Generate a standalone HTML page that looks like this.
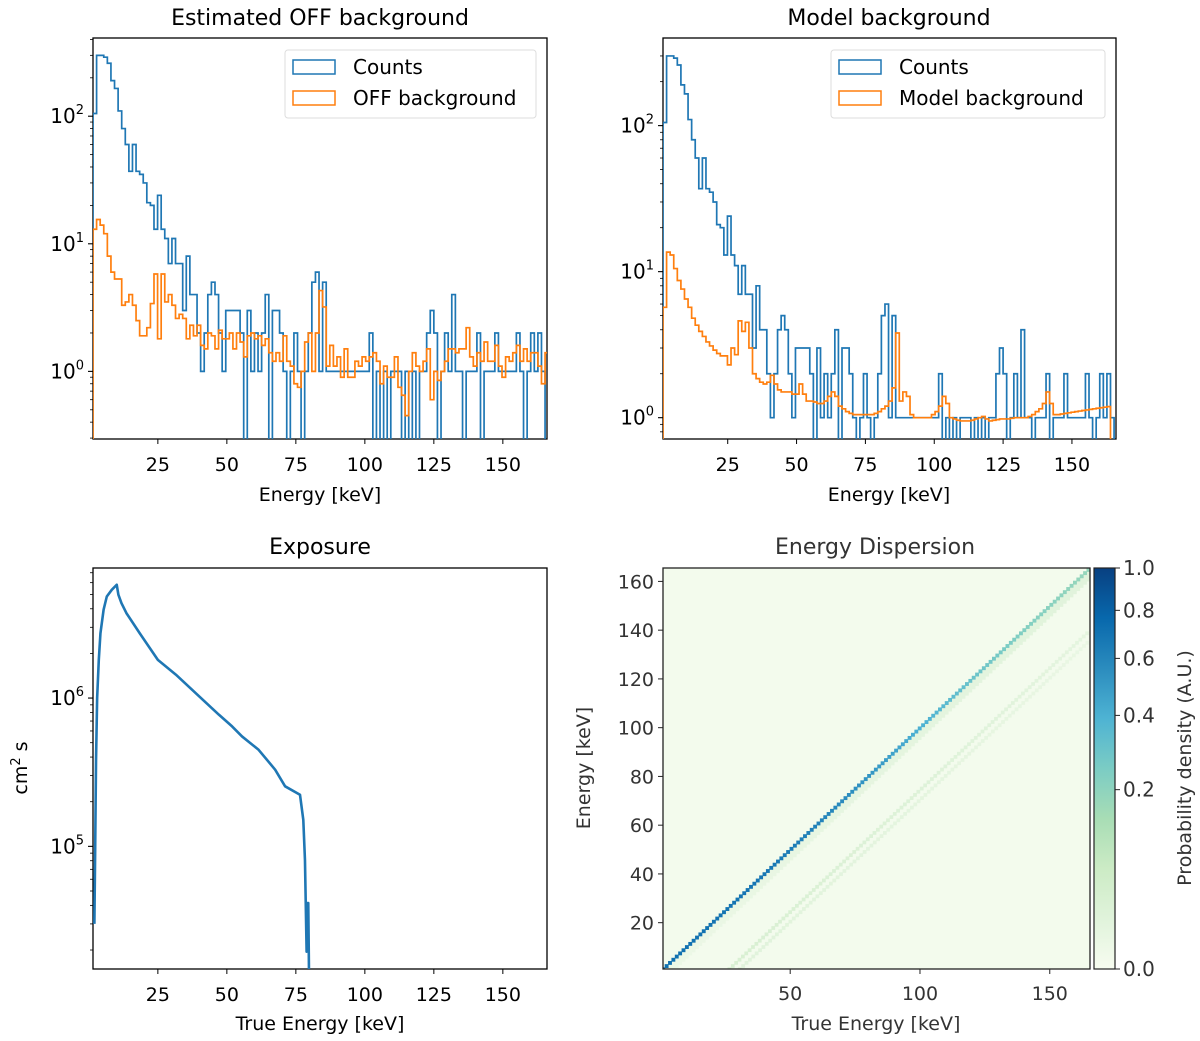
<!DOCTYPE html>
<html><head><meta charset="utf-8"><style>
html,body{margin:0;padding:0;background:#fff;}
svg{display:block;font-family:"DejaVu Sans","Liberation Sans",sans-serif;}
</style></head><body>
<svg id="fig" width="1200" height="1041" viewBox="0 0 1200 1041" xmlns="http://www.w3.org/2000/svg">
<defs>
<linearGradient id="gnbu" x1="0" y1="1" x2="0" y2="0">
<stop offset="0" stop-color="#f7fcf0"/><stop offset="0.125" stop-color="#e0f3db"/><stop offset="0.25" stop-color="#ccebc5"/><stop offset="0.375" stop-color="#a8ddb5"/><stop offset="0.5" stop-color="#7bccc4"/><stop offset="0.625" stop-color="#4eb3d3"/><stop offset="0.75" stop-color="#2b8cbe"/><stop offset="0.875" stop-color="#0868ac"/><stop offset="1" stop-color="#084081"/>
</linearGradient>
<clipPath id="c1"><rect x="93" y="38" width="454" height="401"/></clipPath>
<clipPath id="c2"><rect x="663" y="38" width="453" height="401"/></clipPath>
<clipPath id="c3"><rect x="93" y="568" width="454" height="401"/></clipPath>
<clipPath id="c4"><rect x="663" y="568" width="427" height="401"/></clipPath>
</defs>
<text x="320" y="25" font-size="22" text-anchor="middle">Estimated OFF background</text>
<text x="889" y="25" font-size="22" text-anchor="middle">Model background</text>
<text x="320" y="554" font-size="22" text-anchor="middle">Exposure</text>
<text x="875" y="554" font-size="22" text-anchor="middle" fill="#333">Energy Dispersion</text>
<text x="320" y="501" font-size="19" text-anchor="middle">Energy [keV]</text>
<text x="889" y="501" font-size="19" text-anchor="middle">Energy [keV]</text>
<text x="320" y="1030" font-size="19" text-anchor="middle">True Energy [keV]</text>
<text x="876" y="1030" font-size="19" text-anchor="middle" fill="#333">True Energy [keV]</text>
<text transform="translate(27,768) rotate(-90)" font-size="19" text-anchor="middle">cm<tspan font-size="13" dy="-7">2</tspan><tspan dy="7"> s</tspan></text>
<text transform="translate(590,768) rotate(-90)" font-size="19" text-anchor="middle" fill="#333">Energy [keV]</text>
<text transform="translate(1191,768) rotate(-90)" font-size="19" text-anchor="middle" fill="#333">Probability density (A.U.)</text>
<g id="layer"></g>
<g>
<rect x="285" y="50" width="251" height="68" rx="3" fill="#fff" fill-opacity="0.8" stroke="#ddd"/>
<rect x="293" y="60" width="42" height="14" fill="none" stroke="#1f77b4" stroke-width="1.5"/>
<text x="353" y="74" font-size="20">Counts</text>
<rect x="293" y="91" width="42" height="14" fill="none" stroke="#ff7f0e" stroke-width="1.5"/>
<text x="353" y="105" font-size="20">OFF background</text>
</g>
<g>
<rect x="831" y="50" width="274" height="68" rx="3" fill="#fff" fill-opacity="0.8" stroke="#ddd"/>
<rect x="839" y="60" width="42" height="14" fill="none" stroke="#1f77b4" stroke-width="1.5"/>
<text x="899" y="74" font-size="20">Counts</text>
<rect x="839" y="91" width="42" height="14" fill="none" stroke="#ff7f0e" stroke-width="1.5"/>
<text x="899" y="105" font-size="20">Model background</text>
</g>
</svg>
<script>
const binStart = 1.5;
const binWidth = 1.3;
const counts = [105,300,300,290,260,190,165,110,80,60,37,60,37,35,30,21,20,13,24,13,11,7,11,7,7,3,8,4,4,2,1,2,4,5,4,2,1,3,3,3,3,2,0,3,1,2,1,2,4,0,3,3,2,1,0,1,2,1,0,1,2,5,6,1,5,1,1,1,1,1,1,1,1,1,1,1,1,2,0,1,0,1,0,1,1,1,0,1,0,1,0,1,1,2,3,2,0,1,2,1,4,1,1,0,1,1,1,2,0,1,1,1,2,1,1,1,1,1,2,1,0,1,2,1,2,1,0,2,1];
const offBackground = [13,15.5,14,12,8,6,5.3,5.3,3.3,3.5,4,3.3,2.5,1.9,1.9,2.2,3.4,5.8,1.8,5.8,3.5,4,3.3,2.6,2.8,2.6,1.8,2.3,1.9,2.3,1.6,1.5,2,1.9,1.5,2.1,1.8,1.8,2,1.5,2,1.7,1.3,1.9,2,1.8,1.9,1.6,1.8,1.4,1.2,1.4,1.2,1.9,1.2,1.1,0.8,0.75,1,1.7,2,1,2,4.3,3.2,1.1,1.6,1.1,1.3,0.9,1.5,0.9,0.9,1.2,1.1,1.3,1.2,1.3,1.4,1.2,0.8,1.1,0.9,0.9,1.3,0.75,0.65,0.45,1,1.4,1.1,1,1.2,1.5,0.6,1,0.85,1,1.2,1.5,1.5,1.4,1.5,1.5,2.2,1.3,1.1,1.4,1.2,1.7,1.2,1.2,1.6,1.1,0.9,1.3,1.2,1.4,1.6,1.2,1.5,1.2,1.4,1.4,1.1,0.8,1.4];
const modelBackground = [5.7,13.6,13,10.5,8.7,7.6,6.5,5.7,4.8,4.3,3.9,3.6,3.3,3.1,2.9,2.75,2.65,2.65,2.3,3.0,2.7,4.6,3.9,4.5,3.0,2.0,1.85,1.75,1.7,1.75,1.95,1.7,1.55,1.5,1.5,1.5,1.45,1.45,1.7,1.45,1.3,1.3,1.28,1.25,1.25,1.3,1.4,1.5,1.4,1.2,1.15,1.1,1.07,1.05,1.05,1.05,1.05,1.05,1.05,1.07,1.1,1.15,1.2,1.3,1.6,3.8,1.3,1.5,1.4,1.05,1.0,1.0,1.0,1.0,1.0,1.05,1.1,1.2,1.4,1.25,1.0,0.98,0.96,0.95,0.95,0.95,0.96,0.98,1.0,1.02,0.98,0.95,0.96,0.97,0.98,0.98,0.98,0.99,1.0,1.0,1.0,1.0,1.02,1.05,1.1,1.15,1.25,1.5,1.25,1.05,1.05,1.06,1.07,1.08,1.09,1.1,1.11,1.12,1.13,1.14,1.15,1.16,1.17,1.18,1.19];
const expoEnergy = [2.0,2.3,2.6,3.0,3.6,4.2,5.35,6.5,8.3,10.1,10.7,11.8,13.6,18.4,25,31.5,39.9,47.1,51.9,55.5,61.5,67.5,71.1,76.5,77.7,78.3,78.9,79.2,79.5,79.8];
const expoValue = [30000,100000,384000,1000000,1810000,2740000,3950000,4840000,5370000,5810000,4980000,4370000,3740000,2740000,1810000,1440000,1030000,773000,644000,551000,448000,329000,254000,223000,151000,81000,19500,41500,41500,12000];
const diagEnergy = [1,20,40,60,80,100,120,140,160,166];
const diagPeak = [0.72,0.7,0.68,0.62,0.52,0.4,0.3,0.23,0.19,0.18];
const escapeOffset = [25.5,29.5];
const escapeLevel = [0.03,0.015];
const xTicksHist = [25,50,75,100,125,150];
const xTicksEdisp = [50,100,150];
const yTicksEdisp = [20,40,60,80,100,120,140,160];
const cbarTicks = [0.0,0.2,0.4,0.6,0.8,1.0];

const NS = 'http://www.w3.org/2000/svg';
const layer = document.getElementById('layer');
function mk(tag, parent){const e=document.createElementNS(NS,tag);(parent||layer).appendChild(e);return e;}

const axes = [
 {id:'off', x0:93,x1:547,y0:38,y1:439,xmin:1.5,xmax:166,lmin:-0.53,lmax:2.613,clip:'c1',decades:[0,1,2]},
 {id:'model', x0:663,x1:1116,y0:38,y1:439,xmin:1.5,xmax:166,lmin:-0.146,lmax:2.6,clip:'c2',decades:[0,1,2]},
 {id:'exposure', x0:93,x1:547,y0:568,y1:969,xmin:1.5,xmax:166,lmin:4.173,lmax:6.877,clip:'c3',decades:[5,6]}
];
function X(ax,v){return ax.x0+(v-ax.xmin)/(ax.xmax-ax.xmin)*(ax.x1-ax.x0);}
function Y(ax,v){if(v<=0)return ax.y1+20;return ax.y0+(ax.lmax-Math.log10(v))/(ax.lmax-ax.lmin)*(ax.y1-ax.y0);}

function stepPath(ax,vals){
  let d='M'+X(ax,binStart)+','+(ax.y1+20);
  for(let i=0;i<vals.length;i++){
    const y=Math.min(Y(ax,vals[i]),ax.y1+20);
    d+=' V'+y.toFixed(2)+' H'+X(ax,binStart+(i+1)*binWidth).toFixed(2);
  }
  d+=' V'+(ax.y1+20);
  return d;
}

function logAxis(ax){
  const g=mk('g');
  
  
  const fr=mk('rect',g);
  
  
  fr.setAttribute('x',ax.x0);fr.setAttribute('y',ax.y0);fr.setAttribute('width',ax.x1-ax.x0);fr.setAttribute('height',ax.y1-ax.y0);
  fr.setAttribute('fill','none');fr.setAttribute('stroke','#000');fr.setAttribute('stroke-width','1.3');
  xTicksHist.forEach(t=>{
    const x=X(ax,t);
    const l=mk('line',g);
    
    
    l.setAttribute('x1',x);l.setAttribute('x2',x);l.setAttribute('y1',ax.y1);l.setAttribute('y2',ax.y1+5);l.setAttribute('stroke','#000');
    const tx=mk('text',g);
    
    
    tx.setAttribute('x',x);tx.setAttribute('y',ax.y1+32);tx.setAttribute('font-size','19');tx.setAttribute('text-anchor','middle');
    tx.textContent=t;
  });
  for(let dcd=Math.floor(ax.lmin);dcd<=Math.ceil(ax.lmax);dcd++){
    for(let m=1;m<10;m++){
      const lv=dcd+Math.log10(m);
      if(lv<ax.lmin||lv>ax.lmax)continue;
      const y=Y(ax,Math.pow(10,lv));
      const l=mk('line',g);
      
      
      l.setAttribute('x1',ax.x0);l.setAttribute('x2',ax.x0-(m===1?5:3));l.setAttribute('y1',y);l.setAttribute('y2',y);l.setAttribute('stroke','#000');l.setAttribute('stroke-width',m===1?1.1:0.8);
    }
  }
  ax.decades.forEach(dcd=>{
    const y=Y(ax,Math.pow(10,dcd));
    const tx=mk('text',g);
    
    
    tx.setAttribute('x',ax.x0-9);tx.setAttribute('y',y+7);tx.setAttribute('font-size','20');tx.setAttribute('text-anchor','end');
    const a=mk('tspan',tx);a.textContent='10';
    const b=mk('tspan',tx);b.setAttribute('font-size','13');b.setAttribute('dy','-9');b.textContent=dcd;
  });
}
axes.forEach(logAxis);

[[axes[0],counts,'#1f77b4','counts-step-off'],[axes[0],offBackground,'#ff7f0e','off-background-step'],
 [axes[1],counts,'#1f77b4','counts-step-model'],[axes[1],modelBackground,'#ff7f0e','model-background-step']].forEach(s=>{
  const p=mk('path');
  
  
  p.setAttribute('d',stepPath(s[0],s[1]));
  p.setAttribute('fill','none');p.setAttribute('stroke',s[2]);p.setAttribute('stroke-width','1.7');
  p.setAttribute('clip-path','url(#'+s[0].clip+')');
});

(function(){
  const ax=axes[2];
  let d='';
  expoEnergy.forEach((e,i)=>{d+=(i?' L':'M')+X(ax,e).toFixed(2)+','+Math.min(Y(ax,expoValue[i]),ax.y1+20).toFixed(2);});
  const p=mk('path');
  
  
  p.setAttribute('d',d);p.setAttribute('fill','none');p.setAttribute('stroke','#1f77b4');p.setAttribute('stroke-width','2.6');p.setAttribute('stroke-linejoin','round');
  p.setAttribute('clip-path','url(#c3)');
})();

const E={x0:663,x1:1090,y0:568,y1:969,min:1,max:165.5};
function EX(v){return E.x0+(v-E.min)/(E.max-E.min)*(E.x1-E.x0);}
function EY(v){return E.y1-(v-E.min)/(E.max-E.min)*(E.y1-E.y0);}
const stops=[[0,[247,252,240]],[0.125,[224,243,219]],[0.25,[204,235,197]],[0.375,[168,221,181]],[0.5,[123,204,196]],[0.625,[78,179,211]],[0.75,[43,140,190]],[0.875,[8,104,172]],[1,[8,64,129]]];
function cmap(v){
  const t=Math.sqrt(Math.max(0,Math.min(1,v)));
  for(let i=1;i<stops.length;i++){
    if(t<=stops[i][0]){const a=stops[i-1],b=stops[i];const f=(t-a[0])/(b[0]-a[0]);
      return 'rgb('+a[1].map((c,k)=>Math.round(c+(b[1][k]-c)*f)).join(',')+')';}
  }
  return 'rgb(8,64,129)';
}
function interp(xs,ys,x){for(let i=1;i<xs.length;i++){if(x<=xs[i]){const f=(x-xs[i-1])/(xs[i]-xs[i-1]);return ys[i-1]+(ys[i]-ys[i-1])*f;}}return ys[ys.length-1];}
(function(){
  const g=mk('g');
  
  
  g.setAttribute('clip-path','url(#c4)');
  const bg=mk('rect',g);
  
  
  bg.setAttribute('x',E.x0);bg.setAttribute('y',E.y0);bg.setAttribute('width',E.x1-E.x0);bg.setAttribute('height',E.y1-E.y0);bg.setAttribute('fill',cmap(0.0004));
  const w=binWidth*(E.x1-E.x0)/(E.max-E.min);
  escapeOffset.forEach((off,k)=>{
    for(let e=off+1;e<E.max;e+=binWidth){
      const c=mk('rect',g);
      
      
      c.setAttribute('x',EX(e)-w/2);c.setAttribute('y',EY(e-off)-w/2);c.setAttribute('width',w+0.4);c.setAttribute('height',w+0.4);
      c.setAttribute('fill',cmap(escapeLevel[k]*(1-0.8*(e-off)/E.max)));
    }
  });
  for(let e=E.min;e<E.max;e+=binWidth){
    const c=mk('rect',g);
    
    
    c.setAttribute('x',EX(e)-w/2);c.setAttribute('y',EY(e)+w/2);c.setAttribute('width',w+0.4);c.setAttribute('height',w*3);
    c.setAttribute('fill',cmap(0.003+0.012*e/E.max));
  }
  for(let e=E.min;e<E.max;e+=binWidth){
    const c=mk('rect',g);
    
    
    c.setAttribute('x',EX(e)-w/2);c.setAttribute('y',EY(e)-w/2);c.setAttribute('width',w+0.5);c.setAttribute('height',w+0.5);
    c.setAttribute('fill',cmap(interp(diagEnergy,diagPeak,e)));
  }
  const fr=mk('rect');
  
  
  fr.setAttribute('x',E.x0);fr.setAttribute('y',E.y0);fr.setAttribute('width',E.x1-E.x0);fr.setAttribute('height',E.y1-E.y0);fr.setAttribute('fill','none');fr.setAttribute('stroke','#222');fr.setAttribute('stroke-width','1.3');
  xTicksEdisp.forEach(t=>{
    const l=mk('line');
    
    
    l.setAttribute('x1',EX(t));l.setAttribute('x2',EX(t));l.setAttribute('y1',E.y1);l.setAttribute('y2',E.y1+5);l.setAttribute('stroke','#222');
    const tx=mk('text');
    
    
    tx.setAttribute('x',EX(t));tx.setAttribute('y',E.y1+31);tx.setAttribute('font-size','19');tx.setAttribute('text-anchor','middle');tx.setAttribute('fill','#333');tx.textContent=t;
  });
  yTicksEdisp.forEach(t=>{
    const l=mk('line');
    
    
    l.setAttribute('x1',E.x0);l.setAttribute('x2',E.x0-5);l.setAttribute('y1',EY(t));l.setAttribute('y2',EY(t));l.setAttribute('stroke','#222');
    const tx=mk('text');
    
    
    tx.setAttribute('x',E.x0-9);tx.setAttribute('y',EY(t)+7);tx.setAttribute('font-size','19');tx.setAttribute('text-anchor','end');tx.setAttribute('fill','#333');tx.textContent=t;
  });
  const cb={x0:1094,x1:1115,y0:568,y1:969};
  const r=mk('rect');
  
  
  r.setAttribute('x',cb.x0);r.setAttribute('y',cb.y0);r.setAttribute('width',cb.x1-cb.x0);r.setAttribute('height',cb.y1-cb.y0);r.setAttribute('fill','url(#gnbu)');r.setAttribute('stroke','#222');r.setAttribute('stroke-width','1.2');
  cbarTicks.forEach(t=>{
    const y=cb.y1-Math.sqrt(t)*(cb.y1-cb.y0);
    const l=mk('line');
    
    
    l.setAttribute('x1',cb.x1);l.setAttribute('x2',cb.x1+5);l.setAttribute('y1',y);l.setAttribute('y2',y);l.setAttribute('stroke','#222');
    const tx=mk('text');
    
    
    tx.setAttribute('x',cb.x1+8);tx.setAttribute('y',y+7);tx.setAttribute('font-size','20');tx.setAttribute('fill','#333');tx.textContent=t.toFixed(1);
  });
})();
</script>
</body></html>
